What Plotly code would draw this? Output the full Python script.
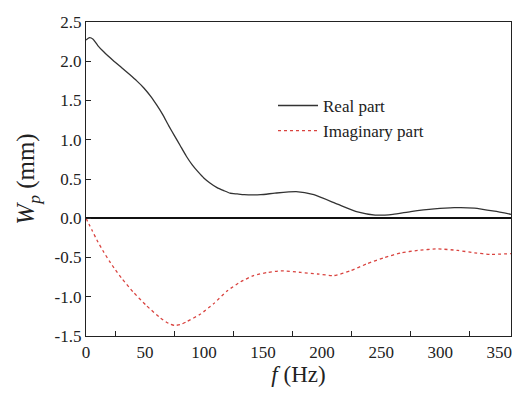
import plotly.graph_objects as go

# Real part
f_re = [0, 3, 6, 10, 15, 23, 30, 37, 43, 49, 55, 60, 65, 70, 75, 80, 85, 90, 95,
        100, 105, 111, 117, 122, 128, 134, 148, 160, 178, 193, 213, 230, 245, 260,
        275, 295, 312, 329, 346, 360]
re_vals = [2.27, 2.30, 2.28, 2.20, 2.12, 2.01, 1.92, 1.83, 1.75, 1.66, 1.55, 1.44,
           1.32, 1.18, 1.05, 0.92, 0.79, 0.68, 0.59, 0.51, 0.45, 0.39, 0.35, 0.32,
           0.31, 0.30, 0.30, 0.32, 0.34, 0.30, 0.18, 0.08, 0.04, 0.05, 0.085, 0.12,
           0.135, 0.13, 0.09, 0.05]

# Imaginary part
f_im = [0, 5, 10, 15, 20, 25, 30, 40, 51, 63, 70, 75, 80, 85, 97, 108, 120, 131,
        142, 154, 165, 182, 196, 210, 224, 238, 253, 267, 281, 298, 315, 329, 343, 360]
im_vals = [0, -0.15, -0.30, -0.43, -0.55, -0.66, -0.76, -0.94, -1.11, -1.27, -1.34,
           -1.365, -1.355, -1.32, -1.22, -1.09, -0.92, -0.81, -0.73, -0.69, -0.67,
           -0.69, -0.71, -0.73, -0.67, -0.58, -0.50, -0.44, -0.41, -0.39, -0.41,
           -0.44, -0.46, -0.45]

x_ticks = [0, 50, 100, 150, 200, 250, 300, 350]
x_minor = [25, 75, 125, 175, 225, 275, 325]
y_ticks = [-1.5, -1.0, -0.5, 0.0, 0.5, 1.0, 1.5, 2.0, 2.5]
y_labels = ["-1.5", "-1.0", "-0.5", "0.0", "0.5", "1.0", "1.5", "2.0", "2.5"]

FONT = "Liberation Serif, Times New Roman, serif"

fig = go.Figure()
fig.add_trace(go.Scatter(x=f_re, y=re_vals, mode="lines", name="Real part",
                         line=dict(color="#333333", width=1.3, shape="spline", smoothing=0.5)))
fig.add_trace(go.Scatter(x=f_im, y=im_vals, mode="lines", name="Imaginary part",
                         line=dict(color="#d9433f", width=1.3, dash="dot", shape="spline", smoothing=0.5)))

fig.update_layout(
    width=519, height=396,
    margin=dict(l=86, r=8, t=22, b=60),
    paper_bgcolor="white", plot_bgcolor="white",
    font=dict(family=FONT, color="#222222", size=17),
    legend=dict(x=0.44, y=0.79, xanchor="left", yanchor="top",
                bgcolor="rgba(0,0,0,0)", font=dict(size=17, family=FONT),
                tracegroupgap=0, itemwidth=40),
    showlegend=True,
)
fig.update_xaxes(
    range=[0, 360], showgrid=False, zeroline=False,
    showline=True, linecolor="#222222", linewidth=1.3, mirror=True,
    tickvals=x_ticks, ticktext=[str(v) for v in x_ticks], ticks="",
    minor=dict(tickvals=x_minor, ticks="inside", ticklen=5, tickcolor="#222222", tickwidth=1.2),
    tickfont=dict(size=17, family=FONT),
    title=dict(text="<i>f</i> (Hz)", font=dict(size=23, family=FONT), standoff=4),
)
fig.update_yaxes(
    range=[-1.5, 2.5], showgrid=False,
    zeroline=True, zerolinecolor="#111111", zerolinewidth=1.5,
    showline=True, linecolor="#222222", linewidth=1.3, mirror=True,
    tickvals=y_ticks, ticktext=y_labels, ticks="inside", ticklen=5,
    tickcolor="#222222", tickwidth=1.2,
    tickfont=dict(size=17, family=FONT),
    title=dict(text="<i>W</i><sub><i>p</i></sub> (mm)", font=dict(size=25, family=FONT), standoff=12),
)

fig.write_html("out.html")
